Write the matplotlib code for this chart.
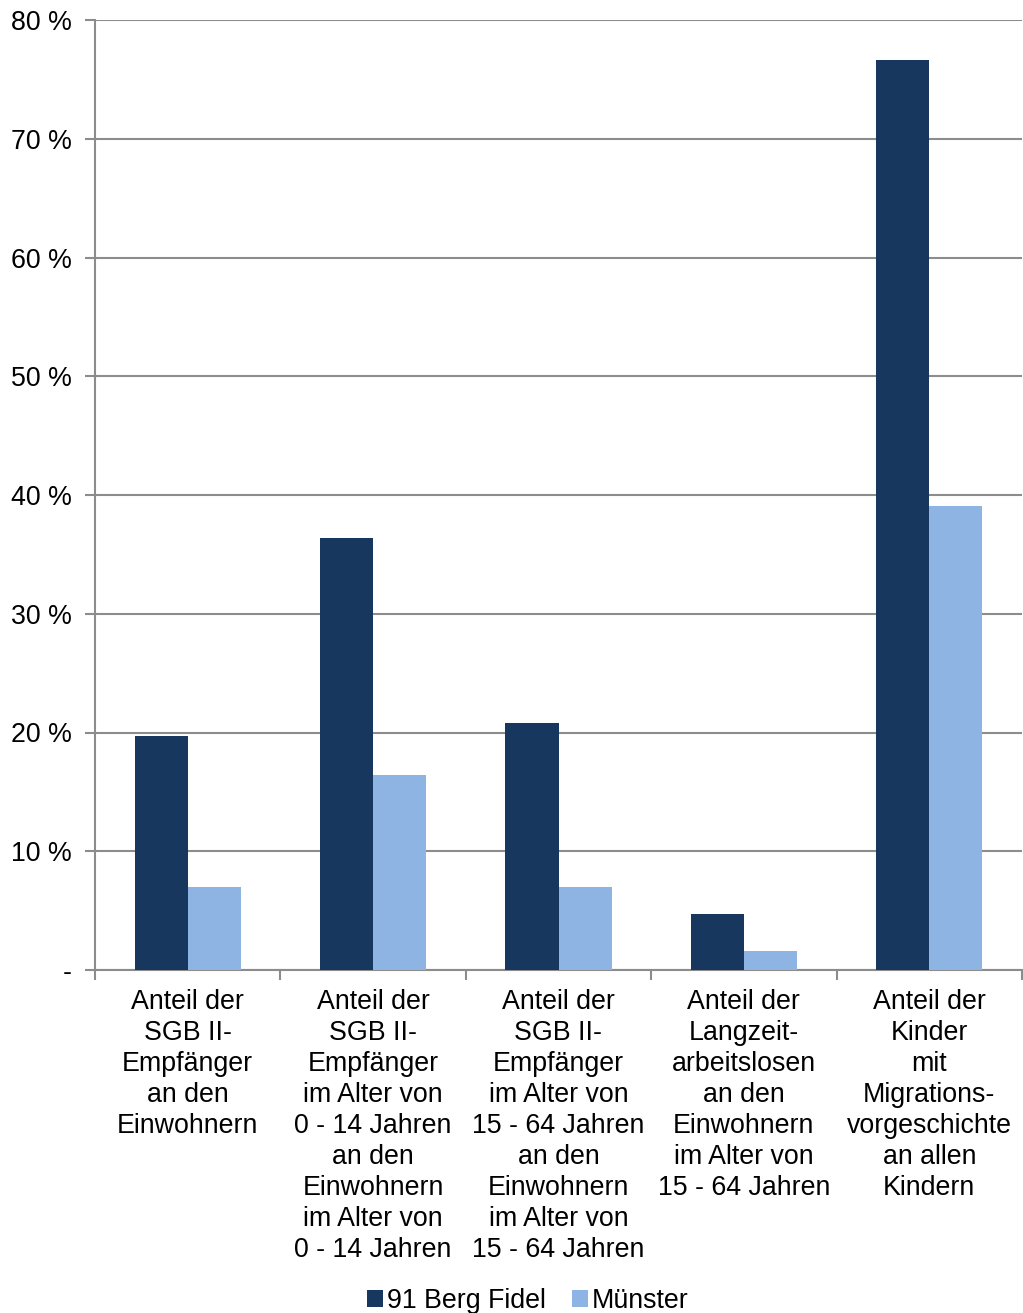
import matplotlib.pyplot as plt
import numpy as np

plt.rcParams['font.family'] = ['Liberation Sans', 'DejaVu Sans']

categories = [
    "Anteil der\nSGB II-\nEmpfänger\nan den\nEinwohnern",
    "Anteil der\nSGB II-\nEmpfänger\nim Alter von\n0 - 14 Jahren\nan den\nEinwohnern\nim Alter von\n0 - 14 Jahren",
    "Anteil der\nSGB II-\nEmpfänger\nim Alter von\n15 - 64 Jahren\nan den\nEinwohnern\nim Alter von\n15 - 64 Jahren",
    "Anteil der\nLangzeit-\narbeitslosen\nan den\nEinwohnern\nim Alter von\n15 - 64 Jahren",
    "Anteil der\nKinder\nmit\nMigrations-\nvorgeschichte\nan allen\nKindern",
]
berg_fidel = [19.7, 36.4, 20.8, 4.7, 76.6]
muenster = [7.0, 16.4, 7.0, 1.6, 39.1]
yticks = [0, 10, 20, 30, 40, 50, 60, 70, 80]
ylabels = ["-", "10 %", "20 %", "30 %", "40 %", "50 %", "60 %", "70 %", "80 %"]

dark = "#17375E"
light = "#8EB4E3"
gray = "#8C8C8C"
fs = 19.3

fig = plt.figure(figsize=(10.23, 13.13), dpi=100)
ax = fig.add_axes([95 / 1023, 1 - 970 / 1313, 927 / 1023, 950 / 1313])

x = np.arange(len(categories))
w = 0.286
ax.bar(x - w / 2, berg_fidel, w, color=dark, label="91 Berg Fidel", zorder=3)
ax.bar(x + w / 2, muenster, w, color=light, label="Münster", zorder=3)

ax.set_xlim(-0.5, len(categories) - 0.5)
ax.set_ylim(0, 80)
ax.set_yticks(yticks)
ax.set_yticklabels(ylabels, fontsize=fs)
ax.yaxis.grid(True, color=gray, lw=1.5, zorder=0)
ax.tick_params(axis='y', length=7, width=1.5, color=gray, pad=10)

# category labels without ticks, boundary ticks as minor
ax.set_xticks(x)
ax.set_xticklabels(categories, fontsize=fs, linespacing=1.25, va='top')
ax.tick_params(axis='x', which='major', length=0, pad=14)
ax.set_xticks(np.arange(-0.5, len(categories)), minor=True)
ax.tick_params(axis='x', which='minor', length=7, width=1.5, color=gray)

for s in ['top', 'right']:
    ax.spines[s].set_visible(False)
for s in ['left', 'bottom']:
    ax.spines[s].set_color(gray)
    ax.spines[s].set_linewidth(1.5)

fig.legend(loc='center', bbox_to_anchor=(528 / 1023, 1 - 1301 / 1313), ncol=2,
           frameon=False, fontsize=fs, handlelength=0.6, handleheight=0.6,
           handletextpad=0.15, columnspacing=0.95)

fig.savefig("out.png", dpi=100)
